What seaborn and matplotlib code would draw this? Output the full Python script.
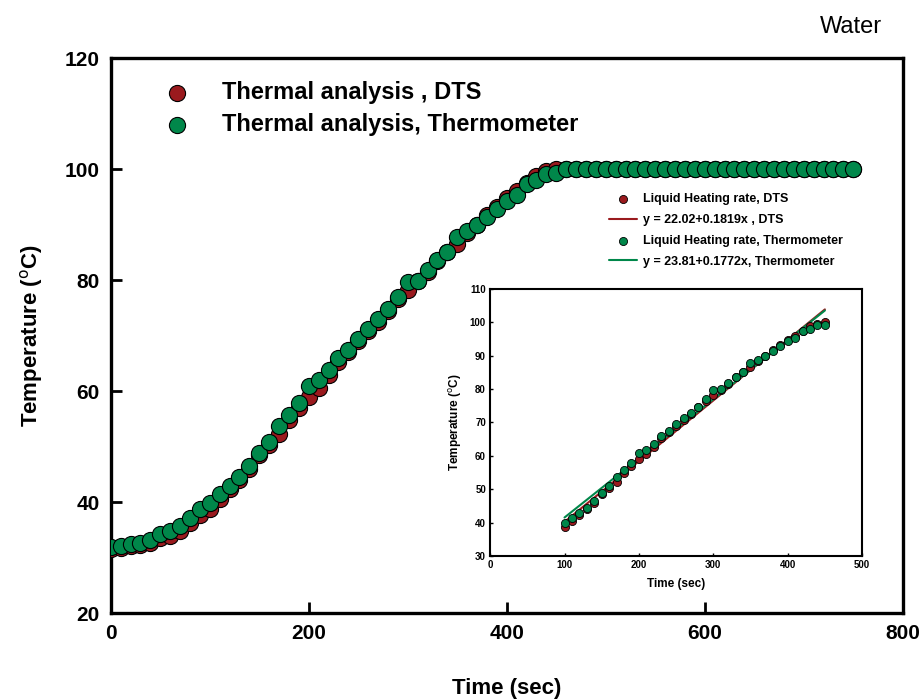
import matplotlib
matplotlib.use("Agg")
import matplotlib.pyplot as plt
import numpy as np
import pandas as pd
import seaborn as sns

# Heating curve of water, one reading every 10 s
time_sec = list(range(0, 760, 10))

thermometer = [
    31.9, 32.1, 32.4, 32.7, 33.2, 34.2, 34.7, 35.7, 37.1, 38.7,
    39.8, 41.5, 42.8, 44.5, 46.5, 48.9, 50.9, 53.7, 55.7, 57.9,
    60.9, 61.9, 63.7, 65.9, 67.4, 69.4, 71.2, 72.9, 74.7, 76.9,
    79.7, 79.9, 81.8, 83.6, 85.1, 87.8, 88.8, 90.0, 91.3, 92.8,
    94.3, 95.3, 97.3, 98.0, 99.1, 99.3,
] + [100.0] * 30

dts = [
    31.5, 31.8, 32.0, 32.3, 32.7, 33.5, 33.9, 34.8, 36.3, 37.6,
    38.8, 40.6, 42.3, 44.0, 46.0, 48.5, 50.3, 52.3, 54.8, 57.0,
    59.0, 60.5, 62.8, 65.2, 67.0, 69.0, 70.8, 72.5, 74.5, 76.5,
    78.2, 79.8, 81.5, 83.5, 85.0, 86.5, 88.5, 90.0, 91.8, 93.2,
    94.8, 96.0, 97.5, 98.8, 99.6, 100.0,
] + [100.0] * 30

# linear fits shown in the inset (100-450 s)
fit_range = (100, 450)
fit_dts = (22.02, 0.1819)
fit_thermo = (23.81, 0.1772)

RED = "#9A1A1E"
GREEN = "#00874A"

df = pd.DataFrame({"time": time_sec, "dts": dts, "thermo": thermometer})
heat = df[(df["time"] >= fit_range[0]) & (df["time"] <= fit_range[1])]

sns.set_style("ticks")
plt.rcParams["font.family"] = ["Liberation Sans", "DejaVu Sans"]
plt.rcParams.update({"text.color": "black", "axes.labelcolor": "black",
                     "xtick.color": "black", "ytick.color": "black",
                     "axes.edgecolor": "black"})

fig = plt.figure(figsize=(9.23, 6.99), dpi=100)
ax = fig.add_axes([0.120, 0.123, 0.858, 0.794])

sns.scatterplot(data=df, x="time", y="dts", color=RED, s=135, edgecolor="black",
                linewidth=0.8, label="Thermal analysis , DTS", ax=ax, zorder=3)
sns.scatterplot(data=df, x="time", y="thermo", color=GREEN, s=135, edgecolor="black",
                linewidth=0.8, label="Thermal analysis, Thermometer", ax=ax, zorder=4)

ax.set_xlim(0, 800)
ax.set_ylim(20, 120)
ax.set_xticks([0, 200, 400, 600, 800])
ax.set_yticks([20, 40, 60, 80, 100, 120])
ax.tick_params(direction="in", length=8, width=2, labelsize=15, pad=8)
for lab in ax.get_xticklabels() + ax.get_yticklabels():
    lab.set_fontweight("bold")
for sp in ax.spines.values():
    sp.set_visible(True)
    sp.set_linewidth(2.4)
ax.set_xlabel("Time (sec)", fontsize=16, fontweight="bold", labelpad=25)
ax.set_ylabel("Temperature ($^\\mathrm{o}$C)", fontsize=16, fontweight="bold", labelpad=14)

leg = ax.legend(loc="upper left", bbox_to_anchor=(0.042, 0.997), frameon=False,
                prop={"size": 17, "weight": "bold"}, handlelength=1.0,
                handletextpad=1.4, labelspacing=0.38)

fig.text(0.956, 0.961, "Water", fontsize=17, ha="right", va="center")

# inset: linear heating region
ins = fig.add_axes([0.531, 0.2046, 0.403, 0.382])
sns.scatterplot(data=heat, x="time", y="dts", color=RED, s=34, edgecolor="black",
                linewidth=0.6, label="Liquid Heating rate, DTS", ax=ins, zorder=3)
fx = np.array(fit_range)
sns.lineplot(x=fx, y=fit_dts[0] + fit_dts[1] * fx, color=RED, linewidth=1.5,
             label="y = 22.02+0.1819x , DTS", ax=ins, zorder=2)
sns.scatterplot(data=heat, x="time", y="thermo", color=GREEN, s=34, edgecolor="black",
                linewidth=0.6, label="Liquid Heating rate, Thermometer", ax=ins, zorder=4)
sns.lineplot(x=fx, y=fit_thermo[0] + fit_thermo[1] * fx, color=GREEN, linewidth=1.5,
             label="y = 23.81+0.1772x, Thermometer", ax=ins, zorder=2)

ins.set_xlim(0, 500)
ins.set_ylim(30, 110)
ins.set_xticks([0, 100, 200, 300, 400, 500])
ins.set_yticks(range(30, 111, 10))
ins.tick_params(direction="in", length=2, width=1, labelsize=7, pad=3)
for lab in ins.get_xticklabels() + ins.get_yticklabels():
    lab.set_fontweight("bold")
for sp in ins.spines.values():
    sp.set_visible(True)
    sp.set_linewidth(1.5)
ins.set_xlabel("Time (sec)", fontsize=8.5, fontweight="bold", labelpad=6)
ins.set_ylabel("Temperature ($^\\mathrm{o}$C)", fontsize=8.5, fontweight="bold", labelpad=4)

h, l = ins.get_legend_handles_labels()
ins.legend(h, l, loc="lower left", bbox_to_anchor=(0.32, 1.08), frameon=False,
           prop={"size": 9, "weight": "bold"}, handlelength=2.2, handletextpad=0.5,
           labelspacing=0.7, borderaxespad=0, borderpad=0)

fig.savefig("out.png", dpi=100)
